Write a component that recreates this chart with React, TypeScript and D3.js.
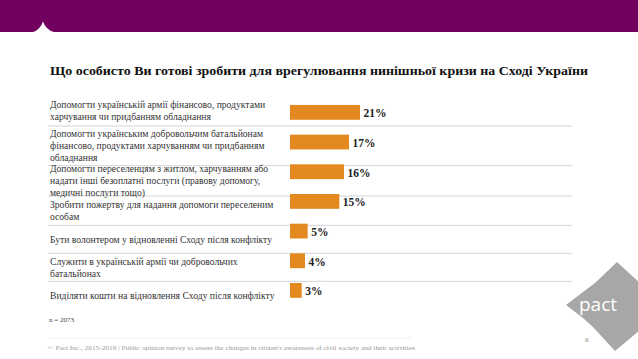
import { useEffect, useRef } from 'react';
import * as d3 from 'd3';

const title = 'Що особисто Ви готові зробити для врегулювання нинішньої кризи на Сході України';

const categories = [
  ['Допомогти українській армії фінансово, продуктами', 'харчування чи придбанням обладнання'],
  ['Допомогти українським добровольчим батальйонам', 'фінансово, продуктами харчуванням чи придбанням', 'обладнання'],
  ['Допомогти переселенцям з житлом, харчуванням або', 'надати інші безоплатні послуги (правову допомогу,', 'медичні послуги тощо)'],
  ['Зробити пожертву для надання допомоги переселеним', 'особам'],
  ['Бути волонтером у відновленні Сходу після конфлікту'],
  ['Служити в українській армії чи добровольчих', 'батальйонах'],
  ['Виділяти кошти на відновлення Сходу після конфлікту'],
];

const values = [21, 17.7, 16.2, 14.8, 5.3, 4.5, 3.5];
const valueLabels = ['21%', '17%', '16%', '15%', '5%', '4%', '3%'];

const note = 'n = 2073';
const footer =
  "© Pact Inc., 2015-2019 | Public opinion survey to assess the changes in citizen's awareness of civil society and their activities";

// table borders of the label column (layout)
const rowEdges = [96, 126, 165.7, 196, 225.3, 253.3, 281.3, 310];

const W = 638;
const H = 359;
const serif = "Georgia, 'Liberation Serif', 'DejaVu Serif', serif";

export default function App() {
  const ref = useRef<SVGSVGElement>(null);

  useEffect(() => {
    if (!ref.current) return;
    const svg = d3.select(ref.current);
    svg.selectAll('*').remove();

    svg.append('rect').attr('width', W).attr('height', H).attr('fill', '#fff');

    // header band with little notch
    svg.append('rect').attr('width', W).attr('height', 32).attr('fill', '#72005E');
    svg
      .append('path')
      .attr('d', 'M33,32 Q40,30 43,21.5 Q46,30 54,32 Z')
      .attr('fill', '#fff');

    svg
      .append('text')
      .attr('x', 50)
      .attr('y', 75)
      .attr('font-family', serif)
      .attr('font-weight', 'bold')
      .attr('font-size', 13.2)
      .attr('fill', '#111')
      .attr('textLength', 538)
      .attr('lengthAdjust', 'spacingAndGlyphs')
      .text(title);

    const idx = categories.map((_, i) => String(i));
    const y = d3.scaleBand().domain(idx).range([90.1, 312.7]).paddingInner(0.5).paddingOuter(0.5);
    const x = d3.scaleLinear().domain([0, 21]).range([290, 360]);

    // separators
    svg
      .append('g')
      .selectAll('line')
      .data(rowEdges.slice(1, -1))
      .join('line')
      .attr('x1', 48)
      .attr('x2', 572)
      .attr('y1', (d) => d)
      .attr('y2', (d) => d)
      .attr('stroke', '#d4d4d4')
      .attr('stroke-width', 1);

    // category labels
    const lh = 12;
    const lab = svg
      .append('g')
      .attr('font-family', serif)
      .attr('font-size', 9.6)
      .attr('fill', '#333');
    categories.forEach((lines, i) => {
      const mid = (rowEdges[i] + rowEdges[i + 1]) / 2;
      const t = lab.append('text');
      lines.forEach((ln, j) => {
        t.append('tspan')
          .attr('x', 50)
          .attr('y', mid + (j - (lines.length - 1) / 2) * lh + 3.2)
          .text(ln);
      });
    });

    // bars
    svg
      .append('g')
      .selectAll('rect')
      .data(values)
      .join('rect')
      .attr('x', x(0))
      .attr('y', (_, i) => y(String(i))!)
      .attr('width', (d) => x(d) - x(0))
      .attr('height', y.bandwidth())
      .attr('fill', '#E3891F');

    svg
      .append('g')
      .selectAll('text')
      .data(values)
      .join('text')
      .attr('x', (d) => x(d) + 3.5)
      .attr('y', (_, i) => y(String(i))! + y.bandwidth() / 2 + 5)
      .attr('font-family', serif)
      .attr('font-weight', 'bold')
      .attr('font-size', 11.5)
      .attr('fill', '#222')
      .text((_, i) => valueLabels[i]);

    svg
      .append('text')
      .attr('x', 49)
      .attr('y', 322)
      .attr('font-family', serif)
      .attr('font-size', 7)
      .attr('fill', '#444')
      .text(note);

    // footer
    svg
      .append('line')
      .attr('x1', 48)
      .attr('x2', 412)
      .attr('y1', 338)
      .attr('y2', 338)
      .attr('stroke', '#f0f0f0');
    svg
      .append('text')
      .attr('x', 48)
      .attr('y', 350)
      .attr('font-family', serif)
      .attr('font-size', 6.3)
      .attr('fill', '#9a9a9a')
      .attr('textLength', 367)
      .attr('lengthAdjust', 'spacingAndGlyphs')
      .text(footer);

    // logo
    svg
      .append('path')
      .attr(
        'd',
        'M617,262 L640,283 L640,330 L615,351 L593,327 L583,318 L566,305 L583,292 L595,283 Z'
      )
      .attr('fill', '#a7a7a7');
    svg
      .append('text')
      .attr('x', 579)
      .attr('y', 311)
      .attr('font-family', "'Open Sans', 'Noto Sans', sans-serif")
      .attr('font-size', 19)
      .attr('fill', '#fff')
      .text('pact');
    svg
      .append('text')
      .attr('x', 585)
      .attr('y', 342)
      .attr('font-family', serif)
      .attr('font-size', 7)
      .attr('fill', '#888')
      .text('6');
  }, []);

  return (
    <div style={{ position: 'fixed', left: 0, top: 0 }}>
      <svg ref={ref} width={W} height={H} viewBox={`0 0 ${W} ${H}`} style={{ display: 'block' }} />
    </div>
  );
}
